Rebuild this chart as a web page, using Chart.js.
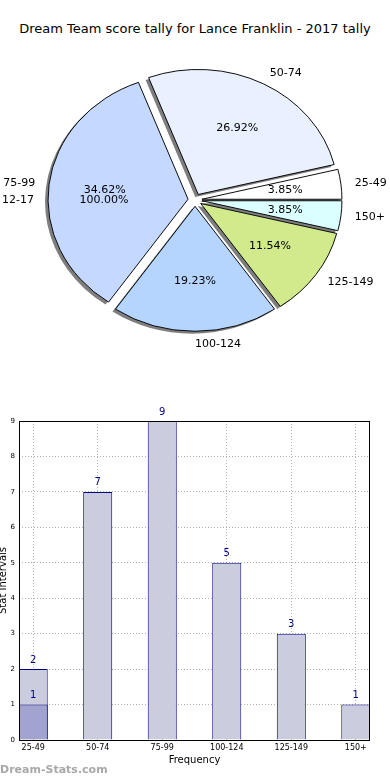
<!DOCTYPE html>
<html>
<head>
<meta charset="utf-8">
<script src="https://cdn.jsdelivr.net/npm/chart.js@4.4.1/dist/chart.umd.min.js"></script>
<style>
  body { margin: 0; width: 390px; height: 780px; background: #fff; position: relative; overflow: hidden; font-family: "DejaVu Sans", sans-serif; }
  #title { position: absolute; top: 21px; left: 0; width: 390px; text-align: center; font-size: 13px; color: #000; }
  #pieWrap { position: absolute; left: 0; top: 0; width: 390px; height: 400px; }
  #barWrap { position: absolute; left: 0; top: 380px; width: 390px; height: 400px; }
  #mark { position: absolute; left: 0; top: 763px; font-size: 11px; font-weight: bold; color: #a8a8a8; }
</style>
</head>
<body>
<div id="title">Dream Team score tally for Lance Franklin - 2017 tally</div>
<div id="pieWrap"><canvas id="pieChart" width="390" height="400"></canvas></div>
<div id="barWrap"><canvas id="barChart" width="390" height="400"></canvas></div>
<div id="mark">Dream-Stats.com</div>
<script>
// categories and counts
const categories = ['25-49', '50-74', '75-99', '100-124', '125-149', '150+'];
const counts = [2, 7, 9, 5, 3, 1];        // light bars
const pieCounts = [1, 7, 9, 5, 3, 1];     // pie wedges
const extraCounts = [1, 0, 0, 0, 0, 0];   // dark bar
const hiddenLabel = '12-17';              // full pie under the main one
const hiddenCount = [1];
const sliceColors = ['#ffffff', '#e9f0ff', '#c5d8ff', '#b5d5ff', '#d0ea8c', '#dbffff'];
const yTicks = [0, 1, 2, 3, 4, 5, 6, 7, 8, 9];

const FONT = '"DejaVu Sans", sans-serif';
const SY = 125 / 140;   // the pie is squashed vertically
const EXPLODE = 7;

// matplotlib goes counter-clockwise from east, Chart.js goes clockwise -> reverse
const pieLabels = categories.slice().reverse();
const pieData = pieCounts.slice().reverse();
const pieColors = sliceColors.slice().reverse();

const midOf = a => {
  const p = a.getProps(['startAngle', 'endAngle']);
  return (p.startAngle + p.endAngle) / 2;
};

const squash = {
  id: 'squash',
  beforeDatasetsDraw(chart) {
    const ctx = chart.ctx;
    const arcs = chart.getDatasetMeta(0).data;
    const cx = arcs[0].x, cy = arcs[0].y;
    // push every wedge out along its middle angle (explode)
    arcs.forEach(a => {
      if (a._exploded) return;
      const orig = a.draw;
      a.draw = function (c) {
        const mid = midOf(this);
        c.save();
        c.translate(EXPLODE * Math.cos(mid), EXPLODE * Math.sin(mid));
        orig.call(this, c);
        c.restore();
      };
      a._exploded = true;
    });
    ctx.save();
    ctx.translate(cx, cy);
    ctx.scale(1, SY);
    ctx.translate(-cx, -cy);
    // shadow pass, under every wedge
    ctx.save();
    ctx.translate(-3, 2.5 / SY);
    ctx.fillStyle = 'rgba(40,40,40,0.6)';
    arcs.forEach(a => {
      const p = a.getProps(['x', 'y', 'startAngle', 'endAngle', 'outerRadius']);
      const mid = (p.startAngle + p.endAngle) / 2;
      const ox = p.x + EXPLODE * Math.cos(mid), oy = p.y + EXPLODE * Math.sin(mid);
      ctx.beginPath();
      ctx.moveTo(ox, oy);
      ctx.arc(ox, oy, p.outerRadius, p.startAngle, p.endAngle);
      ctx.closePath();
      ctx.fill();
    });
    ctx.restore();
  },
  afterDatasetsDraw(chart) {
    chart.ctx.restore();
    const ctx = chart.ctx;
    const arcs = chart.getDatasetMeta(0).data;
    const total = pieData.reduce((s, v) => s + v, 0);
    ctx.save();
    ctx.fillStyle = '#000';
    ctx.textBaseline = 'middle';
    const put = (cx, cy, r, mid, lab, pct) => {
      const ex = cx + EXPLODE * Math.cos(mid), ey = cy + EXPLODE * Math.sin(mid) * SY;
      const lx = ex + 1.1 * r * Math.cos(mid), ly = ey + 1.1 * r * Math.sin(mid) * SY;
      ctx.font = '11px ' + FONT;
      ctx.textAlign = Math.cos(mid) >= 0 ? 'left' : 'right';
      ctx.fillText(lab, lx, ly);
      ctx.textAlign = 'center';
      ctx.fillText(pct, ex + 0.6 * r * Math.cos(mid), ey + 0.6 * r * Math.sin(mid) * SY);
    };
    arcs.forEach((a, i) => {
      const p = a.getProps(['x', 'y', 'outerRadius']);
      put(p.x, p.y, p.outerRadius, midOf(a), pieLabels[i], (pieData[i] / total * 100).toFixed(2) + '%');
    });
    // the single full wedge sits at 180 degrees
    const a0 = arcs[0].getProps(['x', 'y', 'outerRadius']);
    put(a0.x, a0.y, a0.outerRadius, Math.PI, hiddenLabel, (hiddenCount[0] / hiddenCount[0] * 100).toFixed(2) + '%');
    ctx.restore();
  }
};

new Chart(document.getElementById('pieChart'), {
  type: 'pie',
  data: {
    labels: pieLabels,
    datasets: [{
      data: pieData,
      backgroundColor: pieColors,
      borderColor: '#000',
      borderWidth: 1,
      offset: 0,
      hoverOffset: 0
    }]
  },
  options: {
    responsive: false,
    animation: false,
    rotation: 90,
    radius: 140,
    layout: { padding: 0 },
    plugins: { legend: { display: false }, tooltip: { enabled: false } }
  },
  plugins: [squash]
});

const barLabels = {
  id: 'barLabels',
  afterDraw(chart) {
    const ctx = chart.ctx, a = chart.chartArea;
    ctx.save();
    // frame on all four sides
    ctx.strokeStyle = '#000';
    ctx.lineWidth = 1;
    ctx.strokeRect(a.left + 0.5, a.top + 0.5, a.right - a.left - 1, a.bottom - a.top);
    ctx.fillStyle = '#000080';
    ctx.font = '10px ' + FONT;
    ctx.textAlign = 'center';
    ctx.textBaseline = 'middle';
    chart.data.datasets.forEach((ds, di) => {
      chart.getDatasetMeta(di).data.forEach((bar, i) => {
        const v = ds.data[i].y;
        if (!v) return;
        ctx.fillText(String(v), bar.x, bar.y - 9);
      });
    });
    ctx.restore();
  }
};

const gridStyle = { color: 'rgba(0,0,0,0.3)', lineWidth: 1, tickLength: 0, offset: false };

new Chart(document.getElementById('barChart'), {
  type: 'bar',
  data: {
    datasets: [
      {
        data: extraCounts.map((v, i) => ({ x: i, y: v })).filter(d => d.y > 0),
        backgroundColor: '#a3a3d0',
        borderColor: '#000080',
        borderWidth: 1,
        categoryPercentage: 1,
        barPercentage: 0.45
      },
      {
        data: counts.map((v, i) => ({ x: i, y: v })),
        backgroundColor: '#ccccdf',
        borderColor: '#000080',
        borderWidth: 1,
        categoryPercentage: 1,
        barPercentage: 0.45
      }
    ]
  },
  options: {
    responsive: false,
    animation: false,
    grouped: false,
    layout: { padding: { top: 41, right: 20, left: 0, bottom: 14 } },
    plugins: { legend: { display: false }, tooltip: { enabled: false } },
    scales: {
      x: {
        type: 'linear',
        offset: false,
        min: -0.22,
        max: 5.22,
        z: 1,
        grid: gridStyle,
        border: { display: false, dash: [1, 2] },
        afterBuildTicks: s => { s.ticks = categories.map((_, i) => ({ value: i })); },
        afterFit: s => { s.height = 26; },
        ticks: {
          autoSkip: false,
          maxRotation: 0,
          padding: 3,
          color: '#000',
          font: { family: FONT, size: 8 },
          callback: v => categories[v]
        },
        title: { display: true, text: 'Frequency', color: '#000', font: { family: FONT, size: 10 }, padding: { top: 1, bottom: 0 } }
      },
      y: {
        min: 0,
        max: 9,
        z: 1,
        grid: gridStyle,
        border: { display: false, dash: [1, 2] },
        afterBuildTicks: s => { s.ticks = yTicks.map(v => ({ value: v })); },
        afterFit: s => { s.width = 19; },
        ticks: {
          padding: 4,
          color: '#000',
          font: { family: FONT, size: 7 }
        },
        title: { display: true, text: 'Stat Intervals', color: '#000', font: { family: FONT, size: 10 }, padding: { top: -3, bottom: 0 } }
      }
    }
  },
  plugins: [barLabels]
});
</script>
</body>
</html>
